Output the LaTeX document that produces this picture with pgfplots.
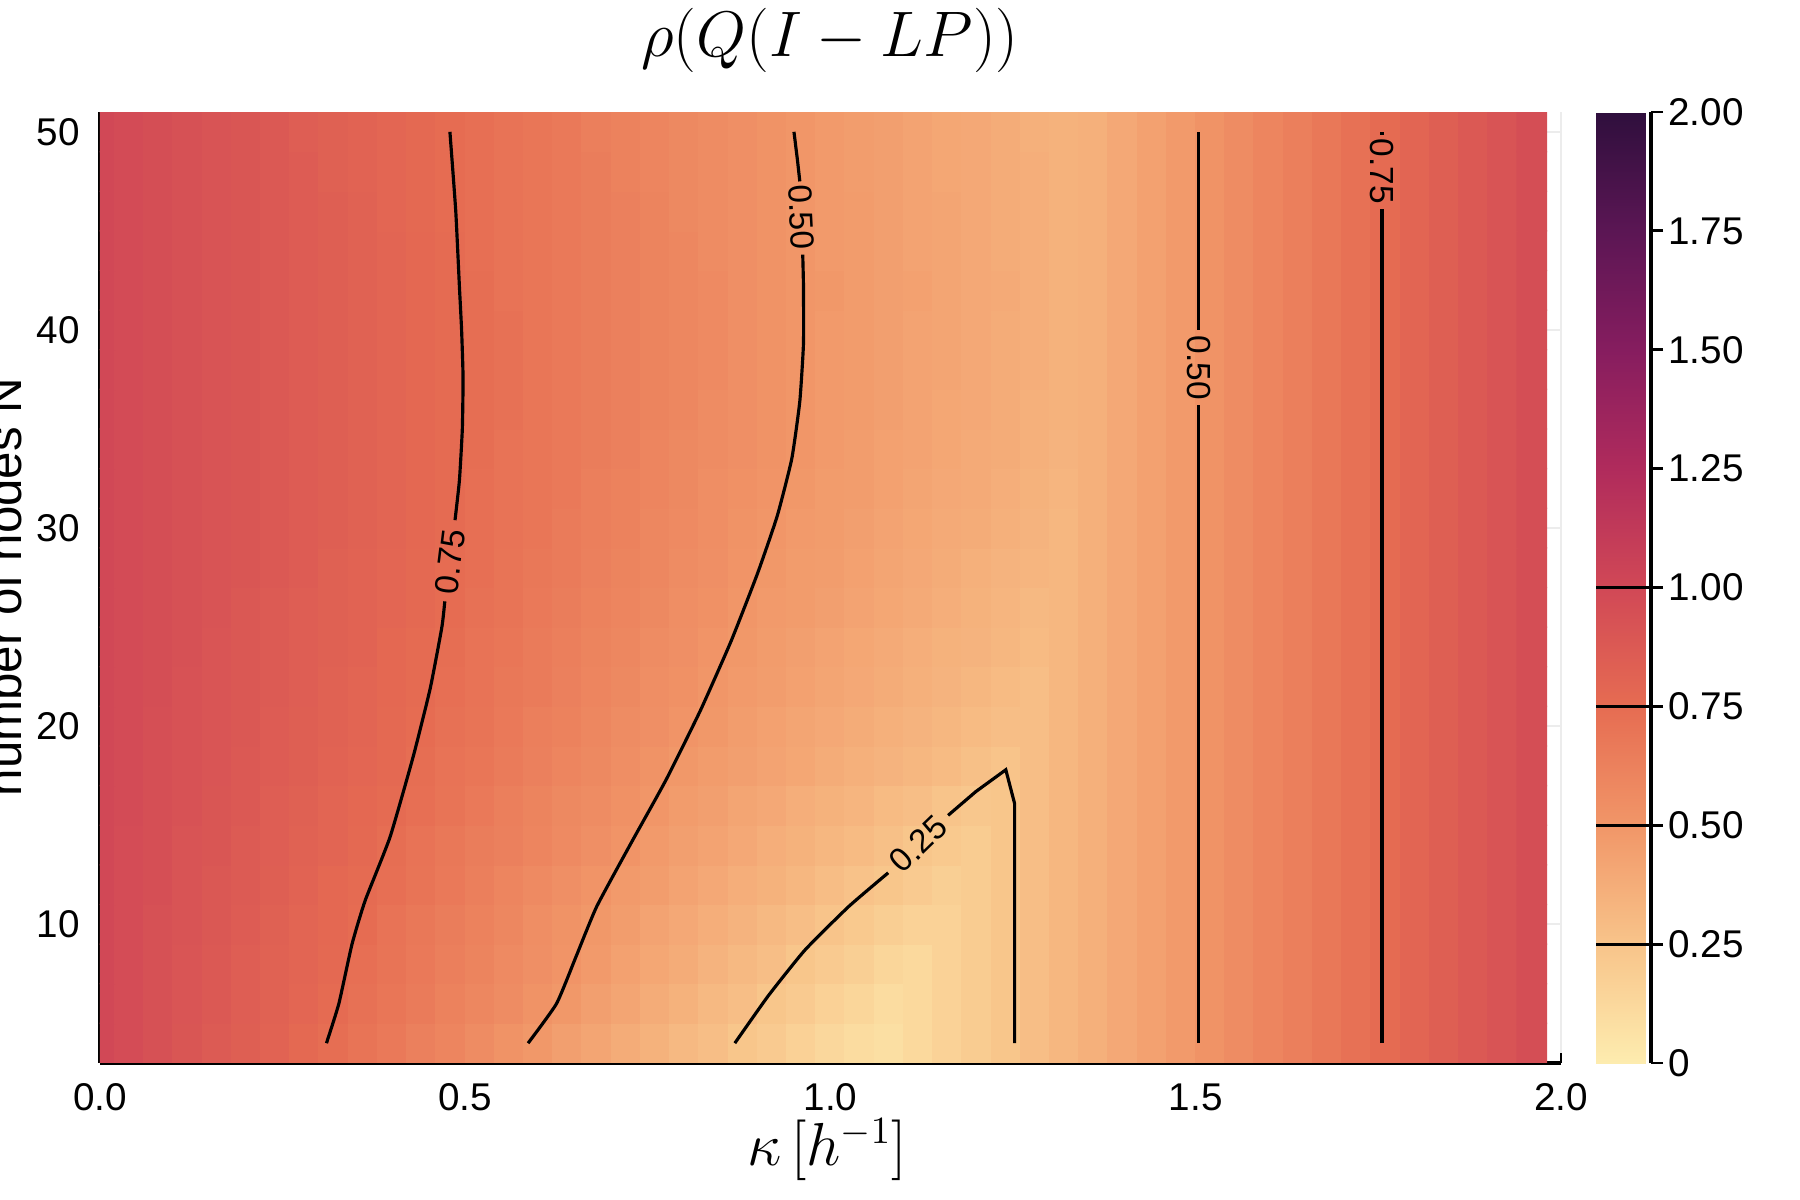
\documentclass[border=0pt]{standalone}
\usepackage{fontspec}
\setmainfont{Liberation Sans}
\usepackage{pgfplots}
\pgfplotsset{compat=1.18}
\pgfplotsset{
  colormap={matter}{rgb255(0)=(253,236,175) rgb255(1)=(248,196,138) rgb255(2)=(241,150,104) rgb255(3)=(230,108,82) rgb255(4)=(209,72,86) rgb255(5)=(176,43,92) rgb255(6)=(134,29,95) rgb255(7)=(91,22,84) rgb255(8)=(47,15,61)}
}
\begin{document}
\begin{tikzpicture}
\useasboundingbox (0,0) rectangle (18cm,12cm);
\begin{axis}[
  at={(1cm,1.37cm)}, anchor=south west,
  scale only axis, width=14.61cm, height=9.51cm,
  xmin=0, xmax=2, ymin=3, ymax=51,
  axis lines*=left,
  axis line style={line width=1.1pt, black},
  tick align=inside, major tick length=0.1cm,
  tick style={line width=0.8pt, black},
  grid=major, grid style={line width=0.5pt, gray!15},
  xtick={0,0.5,1,1.5,2}, xticklabels={0.0,0.5,1.0,1.5,2.0},
  ytick={10,20,30,40,50},
  /pgf/number format/assume math mode=true,
  ticklabel style={font=\fontsize{11}{13}\selectfont},
  xticklabel style={yshift=-0.08cm},
  yticklabel style={xshift=-0.08cm},
  colormap name=matter,
  point meta min=0, point meta max=2,
  colorbar,
  colorbar shift/.style={xshift=0.35cm},
  colorbar style={
    at={(parent axis.north east)}, anchor=north west,
    scale only axis, width=0.55cm, height=9.51cm,
    ymin=0, ymax=2,
    ytick={0,0.25,0.5,0.75,1,1.25,1.5,1.75,2},
    yticklabels={0,0.25,0.50,0.75,1.00,1.25,1.50,1.75,2.00},
    yticklabel style={font=\fontsize{11}{13}\selectfont, xshift=-0.07cm},
    ytick pos=right,
    tick align=outside, major tick length=0.12cm,
    tick style={line width=0.8pt, black},
    axis line style={draw=none},
    extra y ticks={0.25,0.5,0.75,1},
    extra y tick labels={},
    extra y tick style={tick align=inside, major tick length=0.55cm, ytick pos=right},
    after end axis/.code={\draw[line width=0.9pt] (rel axis cs:1,0) -- (rel axis cs:1,1);},
  },
]
\addplot[matrix plot*, mesh/cols=50, mesh/ordering=x varies, point meta=\thisrowno{0}]
 table[header=false, row sep=\\,
   x expr={0.04*(\coordindex-50*floor((\coordindex+0.5)/50))},
   y expr={4+2*floor((\coordindex+0.5)/50)}] {
1.00\\0.97\\0.94\\0.90\\0.87\\0.84\\0.81\\0.77\\0.74\\0.70\\0.67\\0.63\\0.60\\0.56\\0.52\\0.49\\0.45\\0.42\\0.38\\0.35\\0.31\\0.28\\0.24\\0.21\\0.17\\0.13\\0.10\\0.08\\0.12\\0.16\\0.20\\0.24\\0.28\\0.32\\0.36\\0.40\\0.44\\0.48\\0.52\\0.56\\0.60\\0.64\\0.68\\0.72\\0.76\\0.80\\0.84\\0.88\\0.92\\0.96\\
1.00\\0.97\\0.94\\0.91\\0.88\\0.85\\0.82\\0.79\\0.76\\0.72\\0.69\\0.66\\0.62\\0.59\\0.56\\0.52\\0.49\\0.45\\0.42\\0.38\\0.35\\0.31\\0.28\\0.24\\0.21\\0.17\\0.14\\0.10\\0.12\\0.16\\0.20\\0.24\\0.28\\0.32\\0.36\\0.40\\0.44\\0.48\\0.52\\0.56\\0.60\\0.64\\0.68\\0.72\\0.76\\0.80\\0.84\\0.88\\0.92\\0.96\\
1.00\\0.97\\0.94\\0.91\\0.88\\0.85\\0.82\\0.80\\0.77\\0.73\\0.70\\0.67\\0.64\\0.61\\0.57\\0.54\\0.51\\0.48\\0.44\\0.41\\0.38\\0.34\\0.31\\0.28\\0.24\\0.21\\0.18\\0.14\\0.12\\0.16\\0.20\\0.24\\0.28\\0.32\\0.36\\0.40\\0.44\\0.48\\0.52\\0.56\\0.60\\0.64\\0.68\\0.72\\0.76\\0.80\\0.84\\0.88\\0.92\\0.96\\
1.00\\0.97\\0.94\\0.92\\0.89\\0.86\\0.83\\0.80\\0.78\\0.75\\0.71\\0.68\\0.65\\0.62\\0.59\\0.55\\0.52\\0.49\\0.46\\0.43\\0.40\\0.37\\0.34\\0.31\\0.28\\0.25\\0.22\\0.19\\0.16\\0.16\\0.20\\0.24\\0.28\\0.32\\0.36\\0.40\\0.44\\0.48\\0.52\\0.56\\0.60\\0.64\\0.68\\0.72\\0.76\\0.80\\0.84\\0.88\\0.92\\0.96\\
1.00\\0.97\\0.95\\0.92\\0.89\\0.87\\0.84\\0.81\\0.78\\0.76\\0.73\\0.70\\0.67\\0.64\\0.60\\0.57\\0.54\\0.51\\0.48\\0.46\\0.43\\0.40\\0.37\\0.35\\0.32\\0.29\\0.26\\0.24\\0.21\\0.18\\0.20\\0.24\\0.28\\0.32\\0.36\\0.40\\0.44\\0.48\\0.52\\0.56\\0.60\\0.64\\0.68\\0.72\\0.76\\0.80\\0.84\\0.88\\0.92\\0.96\\
1.00\\0.97\\0.95\\0.92\\0.90\\0.87\\0.85\\0.82\\0.80\\0.77\\0.74\\0.71\\0.68\\0.65\\0.63\\0.60\\0.57\\0.54\\0.51\\0.48\\0.45\\0.43\\0.40\\0.37\\0.35\\0.32\\0.30\\0.27\\0.24\\0.22\\0.20\\0.24\\0.28\\0.32\\0.36\\0.40\\0.44\\0.48\\0.52\\0.56\\0.60\\0.64\\0.68\\0.72\\0.76\\0.80\\0.84\\0.88\\0.92\\0.96\\
1.00\\0.98\\0.95\\0.93\\0.90\\0.88\\0.85\\0.83\\0.80\\0.78\\0.76\\0.73\\0.70\\0.67\\0.64\\0.61\\0.58\\0.56\\0.53\\0.50\\0.47\\0.45\\0.42\\0.40\\0.37\\0.35\\0.33\\0.30\\0.28\\0.25\\0.23\\0.24\\0.28\\0.32\\0.36\\0.40\\0.44\\0.48\\0.52\\0.56\\0.60\\0.64\\0.68\\0.72\\0.76\\0.80\\0.84\\0.88\\0.92\\0.96\\
1.00\\0.98\\0.95\\0.93\\0.91\\0.88\\0.86\\0.84\\0.81\\0.79\\0.77\\0.74\\0.71\\0.69\\0.66\\0.63\\0.60\\0.58\\0.55\\0.52\\0.49\\0.47\\0.45\\0.43\\0.41\\0.38\\0.36\\0.34\\0.32\\0.30\\0.27\\0.25\\0.28\\0.32\\0.36\\0.40\\0.44\\0.48\\0.52\\0.56\\0.60\\0.64\\0.68\\0.72\\0.76\\0.80\\0.84\\0.88\\0.92\\0.96\\
1.00\\0.98\\0.95\\0.93\\0.91\\0.89\\0.86\\0.84\\0.82\\0.80\\0.77\\0.75\\0.72\\0.70\\0.67\\0.64\\0.62\\0.59\\0.56\\0.54\\0.51\\0.49\\0.46\\0.44\\0.42\\0.40\\0.38\\0.36\\0.34\\0.32\\0.30\\0.28\\0.28\\0.32\\0.36\\0.40\\0.44\\0.48\\0.52\\0.56\\0.60\\0.64\\0.68\\0.72\\0.76\\0.80\\0.84\\0.88\\0.92\\0.96\\
1.00\\0.98\\0.96\\0.93\\0.91\\0.89\\0.87\\0.85\\0.82\\0.80\\0.78\\0.76\\0.73\\0.71\\0.68\\0.66\\0.63\\0.60\\0.58\\0.55\\0.53\\0.50\\0.48\\0.46\\0.44\\0.42\\0.40\\0.38\\0.36\\0.34\\0.32\\0.30\\0.28\\0.32\\0.36\\0.40\\0.44\\0.48\\0.52\\0.56\\0.60\\0.64\\0.68\\0.72\\0.76\\0.80\\0.84\\0.88\\0.92\\0.96\\
1.00\\0.98\\0.96\\0.94\\0.91\\0.89\\0.87\\0.85\\0.83\\0.81\\0.78\\0.76\\0.74\\0.71\\0.69\\0.66\\0.64\\0.61\\0.59\\0.56\\0.54\\0.51\\0.49\\0.47\\0.45\\0.43\\0.41\\0.39\\0.37\\0.35\\0.34\\0.32\\0.30\\0.32\\0.36\\0.40\\0.44\\0.48\\0.52\\0.56\\0.60\\0.64\\0.68\\0.72\\0.76\\0.80\\0.84\\0.88\\0.92\\0.96\\
1.00\\0.98\\0.96\\0.94\\0.92\\0.89\\0.87\\0.85\\0.83\\0.81\\0.79\\0.77\\0.75\\0.72\\0.70\\0.67\\0.65\\0.62\\0.60\\0.58\\0.55\\0.53\\0.50\\0.48\\0.47\\0.45\\0.43\\0.41\\0.39\\0.37\\0.35\\0.33\\0.31\\0.32\\0.36\\0.40\\0.44\\0.48\\0.52\\0.56\\0.60\\0.64\\0.68\\0.72\\0.76\\0.80\\0.84\\0.88\\0.92\\0.96\\
1.00\\0.98\\0.96\\0.94\\0.92\\0.90\\0.88\\0.86\\0.83\\0.81\\0.79\\0.77\\0.75\\0.73\\0.70\\0.68\\0.66\\0.63\\0.61\\0.59\\0.56\\0.54\\0.51\\0.49\\0.47\\0.46\\0.44\\0.42\\0.40\\0.38\\0.36\\0.34\\0.33\\0.32\\0.36\\0.40\\0.44\\0.48\\0.52\\0.56\\0.60\\0.64\\0.68\\0.72\\0.76\\0.80\\0.84\\0.88\\0.92\\0.96\\
1.00\\0.98\\0.96\\0.94\\0.92\\0.90\\0.88\\0.86\\0.84\\0.82\\0.80\\0.78\\0.76\\0.73\\0.71\\0.69\\0.66\\0.64\\0.62\\0.59\\0.57\\0.55\\0.52\\0.50\\0.48\\0.47\\0.45\\0.43\\0.41\\0.39\\0.38\\0.36\\0.34\\0.32\\0.36\\0.40\\0.44\\0.48\\0.52\\0.56\\0.60\\0.64\\0.68\\0.72\\0.76\\0.80\\0.84\\0.88\\0.92\\0.96\\
1.00\\0.98\\0.96\\0.94\\0.92\\0.90\\0.88\\0.86\\0.84\\0.82\\0.80\\0.78\\0.76\\0.73\\0.71\\0.69\\0.67\\0.64\\0.62\\0.60\\0.58\\0.55\\0.53\\0.51\\0.49\\0.47\\0.46\\0.44\\0.42\\0.40\\0.39\\0.37\\0.35\\0.33\\0.36\\0.40\\0.44\\0.48\\0.52\\0.56\\0.60\\0.64\\0.68\\0.72\\0.76\\0.80\\0.84\\0.88\\0.92\\0.96\\
1.00\\0.98\\0.96\\0.94\\0.92\\0.90\\0.88\\0.86\\0.84\\0.82\\0.80\\0.78\\0.76\\0.74\\0.71\\0.69\\0.67\\0.65\\0.63\\0.60\\0.58\\0.56\\0.54\\0.52\\0.50\\0.48\\0.46\\0.44\\0.43\\0.41\\0.39\\0.38\\0.36\\0.34\\0.36\\0.40\\0.44\\0.48\\0.52\\0.56\\0.60\\0.64\\0.68\\0.72\\0.76\\0.80\\0.84\\0.88\\0.92\\0.96\\
1.00\\0.98\\0.96\\0.94\\0.92\\0.90\\0.88\\0.86\\0.84\\0.82\\0.80\\0.78\\0.76\\0.74\\0.72\\0.69\\0.67\\0.65\\0.63\\0.61\\0.59\\0.56\\0.54\\0.52\\0.50\\0.48\\0.47\\0.45\\0.43\\0.41\\0.40\\0.38\\0.36\\0.35\\0.36\\0.40\\0.44\\0.48\\0.52\\0.56\\0.60\\0.64\\0.68\\0.72\\0.76\\0.80\\0.84\\0.88\\0.92\\0.96\\
1.00\\0.98\\0.96\\0.94\\0.92\\0.90\\0.88\\0.86\\0.84\\0.82\\0.80\\0.78\\0.76\\0.74\\0.72\\0.69\\0.67\\0.65\\0.63\\0.61\\0.59\\0.57\\0.54\\0.52\\0.50\\0.48\\0.47\\0.45\\0.43\\0.42\\0.40\\0.38\\0.37\\0.35\\0.36\\0.40\\0.44\\0.48\\0.52\\0.56\\0.60\\0.64\\0.68\\0.72\\0.76\\0.80\\0.84\\0.88\\0.92\\0.96\\
1.00\\0.98\\0.96\\0.94\\0.92\\0.90\\0.88\\0.86\\0.84\\0.82\\0.80\\0.78\\0.76\\0.74\\0.72\\0.69\\0.67\\0.65\\0.63\\0.61\\0.59\\0.57\\0.54\\0.52\\0.50\\0.48\\0.47\\0.45\\0.43\\0.42\\0.40\\0.38\\0.37\\0.35\\0.36\\0.40\\0.44\\0.48\\0.52\\0.56\\0.60\\0.64\\0.68\\0.72\\0.76\\0.80\\0.84\\0.88\\0.92\\0.96\\
1.00\\0.98\\0.96\\0.94\\0.92\\0.90\\0.88\\0.86\\0.84\\0.82\\0.80\\0.78\\0.76\\0.74\\0.71\\0.69\\0.67\\0.65\\0.63\\0.61\\0.59\\0.57\\0.54\\0.52\\0.50\\0.49\\0.47\\0.45\\0.44\\0.42\\0.40\\0.39\\0.37\\0.35\\0.36\\0.40\\0.44\\0.48\\0.52\\0.56\\0.60\\0.64\\0.68\\0.72\\0.76\\0.80\\0.84\\0.88\\0.92\\0.96\\
1.00\\0.98\\0.96\\0.94\\0.92\\0.90\\0.88\\0.86\\0.84\\0.82\\0.80\\0.78\\0.76\\0.73\\0.71\\0.69\\0.67\\0.65\\0.63\\0.61\\0.59\\0.56\\0.54\\0.52\\0.50\\0.48\\0.47\\0.45\\0.43\\0.42\\0.40\\0.38\\0.37\\0.35\\0.36\\0.40\\0.44\\0.48\\0.52\\0.56\\0.60\\0.64\\0.68\\0.72\\0.76\\0.80\\0.84\\0.88\\0.92\\0.96\\
1.00\\0.98\\0.96\\0.94\\0.92\\0.90\\0.88\\0.86\\0.84\\0.82\\0.79\\0.77\\0.75\\0.73\\0.71\\0.69\\0.67\\0.65\\0.63\\0.61\\0.58\\0.56\\0.54\\0.52\\0.50\\0.48\\0.47\\0.45\\0.43\\0.42\\0.40\\0.38\\0.37\\0.35\\0.36\\0.40\\0.44\\0.48\\0.52\\0.56\\0.60\\0.64\\0.68\\0.72\\0.76\\0.80\\0.84\\0.88\\0.92\\0.96\\
1.00\\0.98\\0.96\\0.94\\0.92\\0.90\\0.88\\0.86\\0.83\\0.81\\0.79\\0.77\\0.75\\0.73\\0.71\\0.69\\0.67\\0.65\\0.62\\0.60\\0.58\\0.56\\0.54\\0.52\\0.50\\0.48\\0.46\\0.45\\0.43\\0.41\\0.40\\0.38\\0.37\\0.35\\0.36\\0.40\\0.44\\0.48\\0.52\\0.56\\0.60\\0.64\\0.68\\0.72\\0.76\\0.80\\0.84\\0.88\\0.92\\0.96\\
1.00\\0.98\\0.96\\0.94\\0.92\\0.90\\0.88\\0.85\\0.83\\0.81\\0.79\\0.77\\0.75\\0.73\\0.71\\0.69\\0.67\\0.64\\0.62\\0.60\\0.58\\0.56\\0.54\\0.52\\0.50\\0.48\\0.46\\0.45\\0.43\\0.41\\0.40\\0.38\\0.36\\0.35\\0.36\\0.40\\0.44\\0.48\\0.52\\0.56\\0.60\\0.64\\0.68\\0.72\\0.76\\0.80\\0.84\\0.88\\0.92\\0.96\\
};
% contour 0.75 (left)
\addplot[black, line width=0.9pt, no marks, smooth, tension=0.3] coordinates {(0.310,4) (0.327,6) (0.345,9.0) (0.363,11.2) (0.397,14.4) (0.429,18.5) (0.452,21.9) (0.468,25.0) (0.472,26.3)};
\addplot[black, line width=0.9pt, no marks, smooth, tension=0.3] coordinates {(0.486,30.4) (0.492,32.4) (0.496,35) (0.497,37.6) (0.495,40) (0.492,42.2) (0.487,46) (0.479,50)};
% contour 0.5 (left)
\addplot[black, line width=0.9pt, no marks, smooth, tension=0.3] coordinates {(0.586,4) (0.625,6) (0.652,8.4) (0.680,10.9) (0.727,14.1) (0.775,17.3) (0.822,20.8) (0.864,24.3) (0.900,27.7) (0.927,30.6) (0.947,33.5) (0.958,36.4) (0.963,39.3) (0.963,42.2) (0.962,43.8)};
\addplot[black, line width=0.9pt, no marks] coordinates {(0.958,47.5) (0.955,48.5) (0.950,50)};
% contour 0.25
\addplot[black, line width=0.9pt, no marks, smooth, tension=0.3] coordinates {(0.869,4) (0.915,6.4) (0.965,8.7) (1.025,10.9) (1.079,12.6)};
\addplot[black, line width=0.9pt, no marks] coordinates {(1.161,15.5) (1.199,16.7) (1.240,17.8) (1.252,16.1) (1.252,4)};
% contour 0.5 (right)
\addplot[black, line width=0.9pt, no marks] coordinates {(1.504,4) (1.504,36.2)};
\addplot[black, line width=0.9pt, no marks] coordinates {(1.504,40.0) (1.504,50)};
% contour 0.75 (right)
\addplot[black, line width=0.9pt, no marks] coordinates {(1.755,4) (1.755,46.1)};
\addplot[black, line width=0.9pt, no marks] coordinates {(1.755,49.85) (1.755,50)};
\node[rotate=83, font=\fontsize{9.5}{11}\selectfont, inner sep=0pt] at (axis cs:0.479,28.3) {0.75};
\node[rotate=-87, font=\fontsize{9.5}{11}\selectfont, inner sep=0pt] at (axis cs:0.960,45.7) {0.50};
\node[rotate=44, font=\fontsize{9.5}{11}\selectfont, inner sep=0pt] at (axis cs:1.120,14.05) {0.25};
\node[rotate=-90, font=\fontsize{9.5}{11}\selectfont, inner sep=0pt] at (axis cs:1.504,38.1) {0.50};
\node[rotate=-90, font=\fontsize{9.5}{11}\selectfont, inner sep=0pt] at (axis cs:1.755,48.0) {0.75};
\end{axis}
\node[scale=1.06] at (8.30cm,11.60cm) {\fontsize{17.28}{20}\selectfont $\rho(Q(I-LP))$};
\node at (8.27cm,0.50cm) {\fontsize{16}{19}\selectfont $\kappa\left[h^{-1}\right]$};
\node[rotate=90, anchor=base] at (0.22cm,6.13cm) {\fontsize{14}{17}\selectfont number of nodes N};
\end{tikzpicture}
\end{document}
